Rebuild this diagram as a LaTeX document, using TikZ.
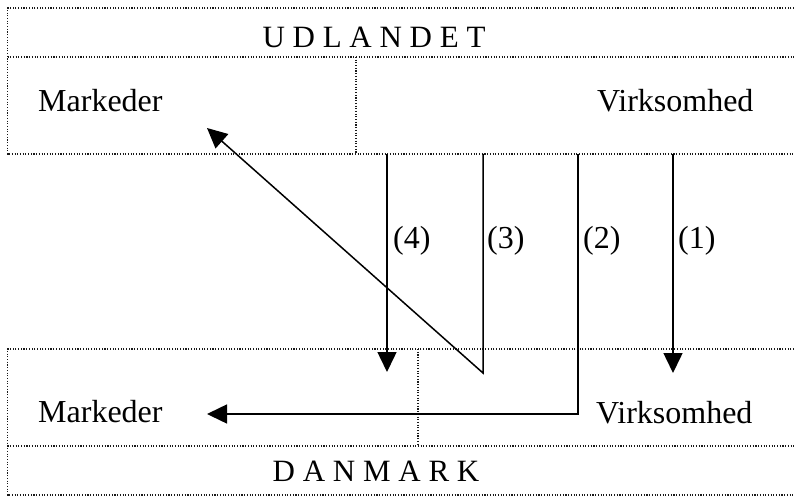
\documentclass[tikz,border=0pt]{standalone}
\usepackage{fontspec}
\setmainfont{Liberation Serif}
\usetikzlibrary{arrows.meta}
\begin{document}
\begin{tikzpicture}[x=1pt,y=-1pt,
  frame/.style={line width=1.1pt,dash pattern=on 1.1pt off 1.6pt,black!90},
  lbl/.style={inner sep=0pt,font=\fontsize{32}{36}\selectfont},
  region/.style={inner sep=0pt,font=\fontsize{31}{36}\selectfont},
  flow/.style={line width=1.5pt,-{Triangle[length=20pt,width=19pt]}}]
\useasboundingbox (0,0) rectangle (794,497);
% frames
\draw[frame] (794,8) -- (7.5,8) -- (7.5,154) -- (794,154);
\draw[frame] (7.5,57) -- (794,57);
\draw[frame] (356,57) -- (356,154);
\draw[frame] (794,349) -- (7.5,349) -- (7.5,495) -- (794,495);
\draw[frame] (7.5,446) -- (794,446);
\draw[frame] (418,349) -- (418,446);
% texts
\node[region,anchor=base] (udl) at (374,48) {U D L A N D E T};
\node[lbl,anchor=base west] (mkU) at (38,112) {Markeder};
\node[lbl,anchor=base west] (vkU) at (597,112) {Virksomhed};
\node[lbl,anchor=base west] (mkD) at (38,422) {Markeder};
\node[lbl,anchor=base west] (vkD) at (596,423) {Virksomhed};
\node[region,anchor=base] (dk) at (376,481) {D A N M A R K};
\node[lbl,anchor=base west] (l4) at (393,248) {(4)};
\node[lbl,anchor=base west] (l3) at (487,248) {(3)};
\node[lbl,anchor=base west] (l2) at (583,248) {(2)};
\node[lbl,anchor=base west] (l1) at (678,248) {(1)};
% connector points
\coordinate (s1) at (673,154);
\coordinate (e1) at (673,373);
\coordinate (s2) at (578,154);
\coordinate (c2) at (578,414);
\coordinate (e2) at (207,414);
\coordinate (s3) at (483,154);
\coordinate (c3) at (483,373);
\coordinate (e3) at (207,128);
\coordinate (s4) at (387,154);
\coordinate (e4) at (387,372);
% arrows
\draw[flow] (s1) -- (e1);
\draw[flow,line join=miter] (s2) -- (c2) -- (e2);
\draw[flow,line join=miter] (s3) -- (c3) -- (e3);
\draw[flow] (s4) -- (e4);
\end{tikzpicture}
\end{document}
